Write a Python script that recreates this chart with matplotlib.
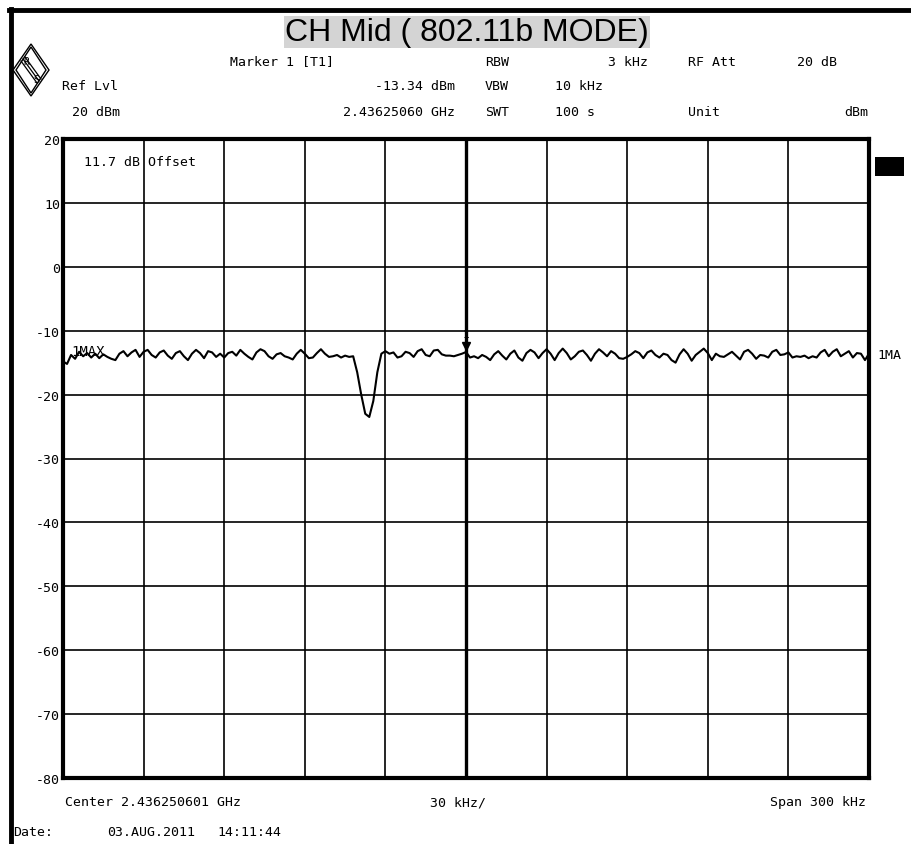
import numpy as np
import matplotlib
matplotlib.use('Agg')
import matplotlib.pyplot as plt
from matplotlib.patches import Polygon, Rectangle

# spectrum analyser trace, level in dBm every 1.5 kHz across the 300 kHz span
level_dbm = [
    -14.8, -15.2, -13.8, -14.4, -13.3, -14.0, -13.5, -14.2, -13.6, -14.3,
    -13.7, -14.1, -14.4, -14.6, -13.6, -13.2, -14.0, -13.4, -13.0, -14.1,
    -13.3, -13.0, -13.8, -14.2, -13.4, -13.1, -13.9, -14.4, -13.5, -13.2,
    -14.0, -14.6, -13.6, -13.0, -13.5, -14.3, -13.2, -13.4, -14.1, -13.6,
    -14.2, -13.5, -13.3, -13.9, -13.0, -13.6, -14.1, -14.5, -13.4, -12.9,
    -13.2, -14.0, -14.4, -13.7, -13.5, -14.0, -14.2, -14.5, -13.6, -13.0,
    -13.6, -14.3, -14.2, -13.5, -12.9, -13.6, -14.1, -14.0, -13.8, -14.2,
    -13.9, -14.1, -14.0, -16.5, -20.0, -23.0, -23.5, -21.0, -16.5, -13.6,
    -13.2, -13.6, -13.4, -14.2, -14.0, -13.3, -13.5, -14.1, -13.2, -12.9,
    -13.8, -14.0, -13.1, -13.0, -13.7, -13.9, -13.9, -14.0, -13.8, -13.6,
    -13.34, -14.2, -14.0, -14.3, -13.8, -14.1, -14.6, -13.7, -13.2, -13.9,
    -14.5, -13.6, -13.1, -14.2, -14.7, -13.5, -13.0, -13.4, -14.3, -13.5,
    -12.9, -13.6, -14.6, -13.5, -12.8, -13.5, -14.5, -14.0, -13.3, -13.1,
    -13.8, -14.7, -13.6, -12.9, -13.4, -14.0, -13.2, -13.6, -14.3, -14.4,
    -14.1, -13.7, -13.2, -13.5, -14.3, -13.4, -13.1, -13.8, -14.2, -13.6,
    -13.8, -14.6, -15.0, -13.7, -12.9, -13.6, -14.7, -13.8, -13.3, -12.8,
    -13.5, -14.6, -13.6, -14.0, -14.1, -13.7, -13.3, -13.9, -14.5, -13.3,
    -13.0, -13.6, -14.4, -13.8, -13.9, -14.2, -13.3, -13.0, -13.8, -13.7,
    -13.4, -14.2, -14.0, -14.1, -13.9, -14.3, -14.0, -14.2, -13.4, -13.0,
    -14.0, -13.3, -12.9, -14.0, -13.6, -13.2, -14.2, -13.5, -13.6, -14.6,
    -13.6,
]
span_khz = 300
offset_khz = np.linspace(-span_khz / 2, span_khz / 2, len(level_dbm))

marker_khz = 0.0
marker_dbm = -13.34

y_ticks = [20, 10, 0, -10, -20, -30, -40, -50, -60, -70, -80]

W, H = 911, 845
MONO = 'DejaVu Sans Mono'


def fx(x):
    return x / W


def fy(y):
    return 1 - y / H


fig = plt.figure(figsize=(W / 100, H / 100), dpi=100)
fig.patch.set_facecolor('white')

# outer frame lines of the screenshot
fig.add_artist(plt.Line2D([fx(9), fx(911)], [fy(11), fy(11)], color='black', lw=3.5))
fig.add_artist(plt.Line2D([fx(11), fx(11)], [fy(10), fy(845)], color='black', lw=3.5))

# title
fig.text(fx(467), fy(33), 'CH Mid ( 802.11b MODE)', ha='center', va='center',
         fontsize=23, family='Liberation Sans',
         bbox=dict(facecolor='#d4d4d4', edgecolor='none', pad=1.0))

# header block
hdr = dict(family=MONO, fontsize=9.5, va='center')
fig.text(fx(230), fy(62), 'Marker 1 [T1]', **hdr)
fig.text(fx(485), fy(62), 'RBW', **hdr)
fig.text(fx(648), fy(62), '3 kHz', ha='right', **hdr)
fig.text(fx(688), fy(62), 'RF Att', **hdr)
fig.text(fx(797), fy(62), '20 dB', **hdr)
fig.text(fx(62), fy(87), 'Ref Lvl', **hdr)
fig.text(fx(455), fy(87), '-13.34 dBm', ha='right', **hdr)
fig.text(fx(485), fy(87), 'VBW', **hdr)
fig.text(fx(555), fy(87), '10 kHz', **hdr)
fig.text(fx(72), fy(113), '20 dBm', **hdr)
fig.text(fx(455), fy(113), '2.43625060 GHz', ha='right', **hdr)
fig.text(fx(485), fy(113), 'SWT', **hdr)
fig.text(fx(555), fy(113), '100 s', **hdr)
fig.text(fx(688), fy(113), 'Unit', **hdr)
fig.text(fx(868), fy(113), 'dBm', ha='right', **hdr)

# R&S logo (diamond)
cx, cy, rx, ry = 31, 71, 18, 26
for k in (0, 3):
    fig.add_artist(Polygon([(fx(cx), fy(cy - ry + k)), (fx(cx + rx - k), fy(cy)),
                            (fx(cx), fy(cy + ry - k)), (fx(cx - rx + k), fy(cy))],
                           closed=True, fill=False, lw=1.0, ec='black'))
for d in (-2, 0, 2):
    fig.add_artist(plt.Line2D([fx(cx - 8 + d), fx(cx + 8 + d)],
                              [fy(cy - 11 - d), fy(cy + 11 - d)], color='black', lw=0.9))
fig.text(fx(cx - 5), fy(cy - 9), 'R', fontsize=7, ha='center', va='center', family=MONO)
fig.text(fx(cx + 5), fy(cy + 9), 'S', fontsize=7, ha='center', va='center', family=MONO)

# plot area
ax = fig.add_axes([fx(63), fy(779), (869 - 63) / W, (779 - 140) / H])
ax.plot(offset_khz, level_dbm, color='black', lw=1.5, zorder=3)
ax.set_xlim(-span_khz / 2, span_khz / 2)
ax.set_ylim(-80, 20)
ax.set_xticks(np.arange(-150, 151, 30))
ax.set_xticklabels([])
ax.set_yticks(y_ticks)
ax.set_yticklabels([str(t) for t in y_ticks], family=MONO, fontsize=9.5)
ax.tick_params(length=0, pad=2)
ax.grid(True, color='black', lw=1.2)
ax.axvline(0, color='black', lw=2.4, zorder=2)
for sp in ax.spines.values():
    sp.set_linewidth(3)

# marker 1
ax.plot([marker_khz], [marker_dbm + 1.0], marker='v', color='black', ms=6, zorder=4)
ax.text(marker_khz, marker_dbm + 2.9, '1', ha='center', va='center', family=MONO, fontsize=8)
ax.plot([marker_khz, marker_khz], [marker_dbm + 1.2, marker_dbm + 2.2], color='black', lw=0.8)

ax.text(-142, 16.5, '11.7 dB Offset', family=MONO, fontsize=9.5, va='center')
ax.text(-147, -13.2, '1MAX', family=MONO, fontsize=10, va='center', zorder=2)

# right side annotations
fig.text(fx(877), fy(356), '1MA', family=MONO, fontsize=9.5, va='center')
fig.add_artist(Rectangle((fx(875), fy(177)), (904 - 875) / W, (177 - 158) / H,
                         facecolor='black', edgecolor='none'))

# footer
fig.text(fx(65), fy(803), 'Center 2.436250601 GHz', family=MONO, fontsize=9.5, va='center')
fig.text(fx(430), fy(803), '30 kHz/', family=MONO, fontsize=9.5, va='center')
fig.text(fx(866), fy(803), 'Span 300 kHz', family=MONO, fontsize=9.5, va='center', ha='right')
fig.text(fx(13), fy(833), 'Date:', family=MONO, fontsize=9.5, va='center')
fig.text(fx(107), fy(833), '03.AUG.2011', family=MONO, fontsize=9.5, va='center')
fig.text(fx(217), fy(833), '14:11:44', family=MONO, fontsize=9.5, va='center')

fig.savefig('out.png', dpi=100)
